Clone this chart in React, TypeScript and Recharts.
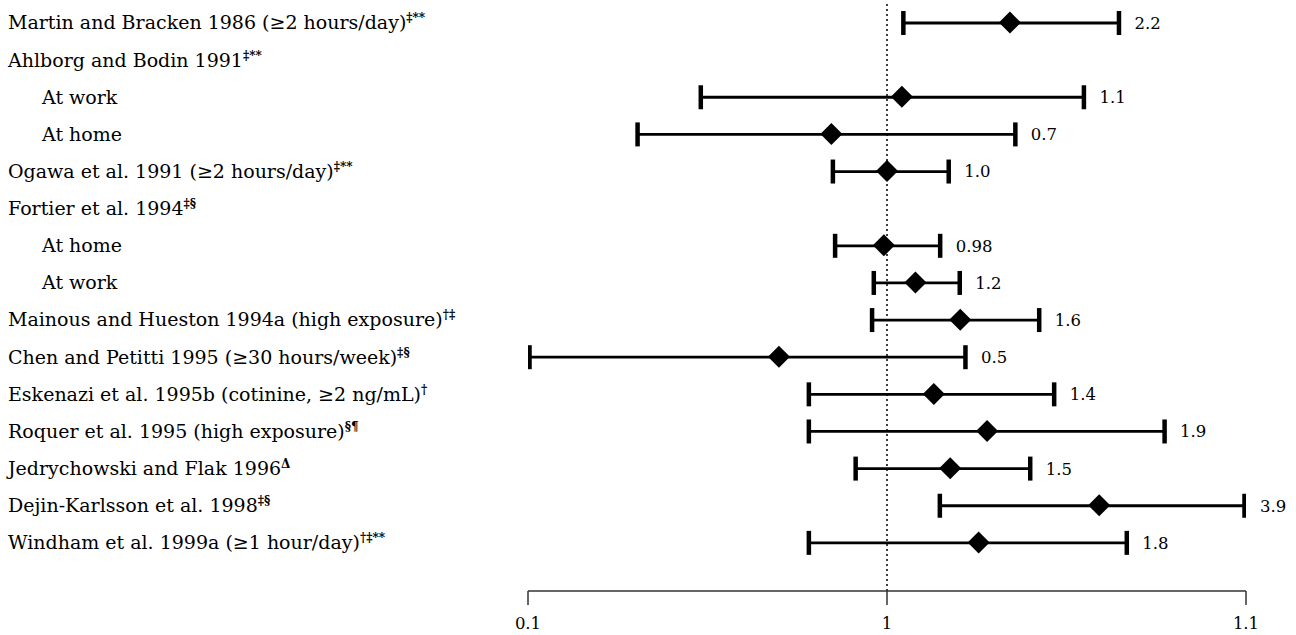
import React from 'react';
import { ComposedChart, Bar, Scatter, XAxis, YAxis, ReferenceLine, LabelList } from 'recharts';

// rows, top to bottom
const studies = [
  'Martin and Bracken 1986 (≥2 hours/day)',
  'Ahlborg and Bodin 1991',
  'At work',
  'At home',
  'Ogawa et al. 1991 (≥2 hours/day)',
  'Fortier et al. 1994',
  'At home',
  'At work',
  'Mainous and Hueston 1994a (high exposure)',
  'Chen and Petitti 1995 (≥30 hours/week)',
  'Eskenazi et al. 1995b (cotinine, ≥2 ng/mL)',
  'Roquer et al. 1995 (high exposure)',
  'Jedrychowski and Flak 1996',
  'Dejin-Karlsson et al. 1998',
  'Windham et al. 1999a (≥1 hour/day)',
];
const superscripts = ['‡**', '‡**', '', '', '‡**', '‡§', '', '', '†‡', '‡§', '†', '§¶', 'Δ', '‡§', '†‡**'];
const indented = [false, false, true, true, false, false, true, true, false, false, false, false, false, false, false];

const oddsRatios = [2.2, null, 1.1, 0.7, 1.0, null, 0.98, 1.2, 1.6, 0.5, 1.35, 1.9, 1.5, 3.9, 1.8];
const lowerCI = [1.1, null, 0.3, 0.2, 0.7, null, 0.71, 0.91, 0.9, 0.1, 0.6, 0.6, 0.81, 1.39, 0.6];
const upperCI = [4.47, null, 3.57, 2.3, 1.5, null, 1.42, 1.61, 2.68, 1.67, 2.95, 5.99, 2.53, 10, 4.7];
const valueLabels = ['2.2', '', '1.1', '0.7', '1.0', '', '0.98', '1.2', '1.6', '0.5', '1.4', '1.9', '1.5', '3.9', '1.8'];

const axisTicks = [0.1, 1, 10];
const axisTickLabels = ['0.1', '1', '1.1'];

const data = studies.map((name, i) => ({
  id: `row${i}`,
  name,
  sup: superscripts[i],
  indent: indented[i],
  or: oddsRatios[i],
  ci: lowerCI[i] == null ? null : [lowerCI[i], upperCI[i]],
  label: valueLabels[i],
}));

const FONT = '"DejaVu Serif", serif';

const StudyTick = (props: any) => {
  const { y, payload } = props;
  const row = data.find((d) => d.id === payload.value);
  if (!row) return null;
  return (
    <text x={row.indent ? 42 : 8} y={y} dy="0.36em" fontFamily={FONT} fontSize={19} fill="#000">
      {row.name}
      {row.sup && (
        <tspan dy={-7} fontSize={12} fontWeight="bold">
          {row.sup}
        </tspan>
      )}
    </text>
  );
};

const AxisTick = (props: any) => {
  const { x, y, payload } = props;
  const i = axisTicks.indexOf(payload.value);
  return (
    <text x={x} y={y} dy="0.75em" textAnchor="middle" fontFamily={FONT} fontSize={16.5} fill="#000">
      {axisTickLabels[i] ?? ''}
    </text>
  );
};

const CIShape = (props: any) => {
  const { x, y, width, height, payload } = props;
  if (!payload || payload.ci == null) return null;
  const cy = y + height / 2;
  const x2 = x + width;
  return (
    <g>
      <line x1={x} x2={x2} y1={cy} y2={cy} stroke="#000" strokeWidth={2.8} />
      <line x1={x + 1.5} x2={x + 1.5} y1={cy - 12} y2={cy + 12} stroke="#000" strokeWidth={4.5} />
      <line x1={x2 - 1.5} x2={x2 - 1.5} y1={cy - 12} y2={cy + 12} stroke="#000" strokeWidth={4.5} />
    </g>
  );
};

const Diamond = (props: any) => {
  const { cx, cy, payload } = props;
  if (!payload || payload.or == null || cx == null) return null;
  const r = 11;
  return <polygon points={`${cx},${cy - r} ${cx + r},${cy} ${cx},${cy + r} ${cx - r},${cy}`} fill="#000" />;
};

const ValueLabel = (props: any) => {
  const { x, y, width, height, value } = props;
  if (!value) return null;
  return (
    <text x={x + width + 14} y={y + height / 2} dy="0.36em" fontFamily={FONT} fontSize={16.5} fill="#000">
      {value}
    </text>
  );
};

export default function App() {
  return (
    <div style={{ width: 1296, height: 635, background: '#fff' }}>
      <style>{'body{margin:0}'}</style>
      <ComposedChart
        width={1296}
        height={635}
        data={data}
        layout="vertical"
        margin={{ top: 4, right: 50, bottom: 0, left: 8 }}
      >
        <XAxis
          type="number"
          scale="log"
          domain={[0.1, 10]}
          ticks={axisTicks}
          allowDataOverflow
          axisLine={{ stroke: '#333', strokeWidth: 1.5 }}
          tickLine={{ stroke: '#333', strokeWidth: 1.5 }}
          tickSize={14}
          tickMargin={12}
          tick={<AxisTick />}
          height={44}
        />
        <YAxis
          type="category"
          dataKey="id"
          width={520}
          axisLine={false}
          tickLine={false}
          tick={<StudyTick />}
          padding={{ top: 0, bottom: 30 }}
          interval={0}
        />
        <ReferenceLine x={1} stroke="#000" strokeWidth={1.5} strokeDasharray="2 3" />
        <Bar dataKey="ci" barSize={24} shape={<CIShape />} isAnimationActive={false}>
          <LabelList dataKey="label" content={<ValueLabel />} />
        </Bar>
        <Scatter dataKey="or" shape={<Diamond />} isAnimationActive={false} />
      </ComposedChart>
    </div>
  );
}
